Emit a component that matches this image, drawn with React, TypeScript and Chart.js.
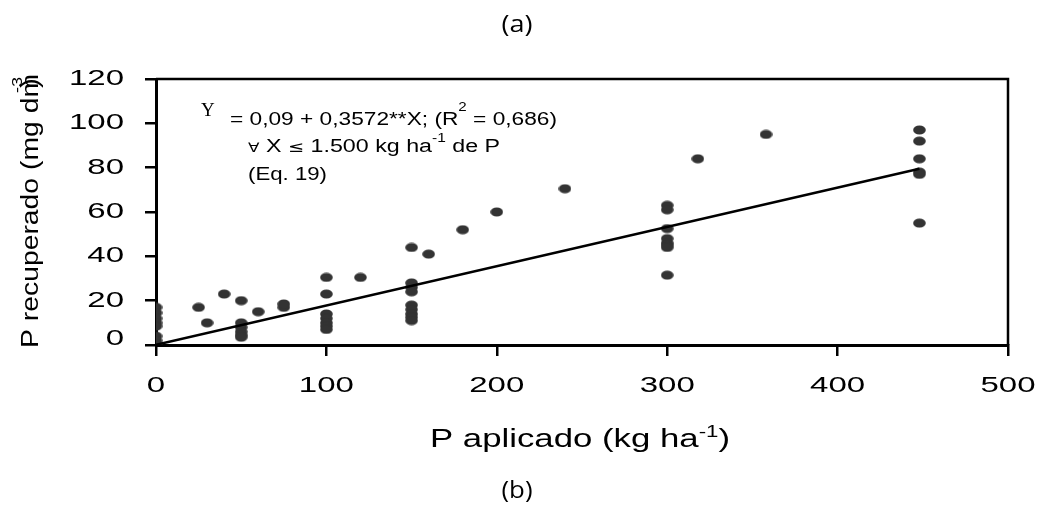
import React, { useEffect, useRef } from "react";
import { Chart, registerables } from "chart.js";

Chart.register(...registerables);

// ---- data ----
const appliedP = [
  0, 0, 0, 0, 0, 0, 0, 0,
  25, 30, 40,
  50, 50, 50, 50, 50, 50,
  60, 75, 75,
  100, 100, 100, 100, 100, 100, 100,
  120,
  150, 150, 150, 150, 150, 150, 150, 150, 150,
  160, 180, 200, 240,
  300, 300, 300, 300, 300, 300, 300, 300,
  318, 358,
  448, 448, 448, 448, 448, 448,
];
const recoveredP = [
  17, 14.5, 12, 10, 8.5, 4, 2, 0.5,
  17, 10, 23,
  20, 10, 8, 6, 4.5, 3.5,
  15, 17, 18.5,
  30.5, 23, 14, 12, 10, 8.5, 7,
  30.5,
  44, 28, 26, 24, 18, 16, 14, 12.5, 11,
  41, 52, 60, 70.5,
  63, 61, 52.5, 48, 46, 45, 44, 31.5,
  84, 95,
  97, 92, 84, 78, 77, 55,
];
const fitX = [0, 448];
const fitY = [0.09, 79.5];

const xTicks = [0, 100, 200, 300, 400, 500];
const xTickLabels = ["0", "100", "200", "300", "400", "500"];
const yTicks = [0, 20, 40, 60, 80, 100, 120];
const yTickLabels = ["0", "20", "40", "60", "80", "100", "120"];

const topTitle = "(a)";
const bottomTitle = "(b)";
const xTitle = "P aplicado (kg ha";
const yTitle = "P recuperado (mg dm";

type Seg = { t: string; font: string; rise?: number };

function drawSegs(
  ctx: CanvasRenderingContext2D,
  segs: Seg[],
  x: number,
  y: number,
  align: "left" | "center" | "right",
  opts: { targetW?: number; scaleX?: number; rotate?: boolean; baseline?: CanvasTextBaseline }
) {
  ctx.save();
  let total = 0;
  const ws = segs.map((s) => {
    ctx.font = s.font;
    const w = ctx.measureText(s.t).width;
    total += w;
    return w;
  });
  const sx = opts.targetW ? opts.targetW / total : opts.scaleX ?? 1;
  ctx.translate(x, y);
  if (opts.rotate) ctx.rotate(-Math.PI / 2);
  ctx.scale(sx, 1);
  let cx = align === "left" ? 0 : align === "center" ? -total / 2 : -total;
  ctx.textAlign = "left";
  ctx.textBaseline = opts.baseline ?? "alphabetic";
  ctx.fillStyle = "#000";
  segs.forEach((s, i) => {
    ctx.font = s.font;
    ctx.fillText(s.t, cx, -(s.rise ?? 0));
    cx += ws[i];
  });
  ctx.restore();
}

const SANS = '"Liberation Sans", Arial, sans-serif';
const CAP = '"Open Sans", "Noto Sans", sans-serif';

const decorPlugin = {
  id: "decor",
  afterDraw(chart: any) {
    const ctx: CanvasRenderingContext2D = chart.ctx;
    const a = chart.chartArea;
    const xs = chart.scales.x;
    const ys = chart.scales.y;

    // box (top and right borders)
    ctx.save();
    ctx.strokeStyle = "#000";
    ctx.lineWidth = 2.5;
    ctx.beginPath();
    ctx.moveTo(a.left, a.top);
    ctx.lineTo(a.right, a.top);
    ctx.lineTo(a.right, a.bottom);
    ctx.stroke();
    ctx.restore();

    // tick labels
    yTicks.forEach((v, i) => {
      const py = ys.getPixelForValue(v);
      drawSegs(ctx, [{ t: yTickLabels[i], font: `22px ${SANS}` }], 124, v === 0 ? py - 6 : py, "right", {
        scaleX: 1.5,
        baseline: "middle",
      });
    });
    xTicks.forEach((v, i) => {
      drawSegs(ctx, [{ t: xTickLabels[i], font: `22px ${SANS}` }], xs.getPixelForValue(v), 386, "center", {
        scaleX: 1.5,
        baseline: "middle",
      });
    });

    // axis titles
    drawSegs(
      ctx,
      [
        { t: xTitle, font: `25px ${SANS}` },
        { t: "-1", font: `16px ${SANS}`, rise: 10 },
        { t: ")", font: `25px ${SANS}` },
      ],
      580,
      447,
      "center",
      { targetW: 300 }
    );
    drawSegs(ctx, [{ t: yTitle, font: `23px ${SANS}` }], 38, 348, "left", { targetW: 274, rotate: true });
    drawSegs(ctx, [{ t: "-3", font: `14px ${SANS}` }], 22, 93, "left", { scaleX: 1.3, rotate: true });
    drawSegs(ctx, [{ t: ")", font: `23px ${SANS}` }], 38, 88, "left", { scaleX: 1.3, rotate: true });

    // equation annotation
    drawSegs(ctx, [{ t: "Y", font: `19px "Liberation Serif", serif` }], 201, 116, "left", {});
    drawSegs(
      ctx,
      [
        { t: "= 0,09 + 0,3572**X; (R", font: `18px ${SANS}` },
        { t: "2", font: `12px ${SANS}`, rise: 14 },
        { t: " = 0,686)", font: `18px ${SANS}` },
      ],
      230,
      125,
      "left",
      { targetW: 327 }
    );
    drawSegs(
      ctx,
      [
        { t: "\u2200", font: `13px "DejaVu Sans", sans-serif` },
        { t: " X ", font: `18px ${SANS}` },
        { t: "\u2264", font: `15px "DejaVu Sans", sans-serif` },
        { t: " 1.500 kg ha", font: `18px ${SANS}` },
        { t: "-1", font: `12px ${SANS}`, rise: 10 },
        { t: " de P", font: `18px ${SANS}` },
      ],
      248,
      152,
      "left",
      { targetW: 252 }
    );
    drawSegs(ctx, [{ t: "(Eq. 19)", font: `18px ${SANS}` }], 248, 180, "left", { targetW: 79 });

    // figure captions
    drawSegs(ctx, [{ t: topTitle, font: `24px ${CAP}` }], 517, 32, "center", { targetW: 31 });
    drawSegs(ctx, [{ t: bottomTitle, font: `24px ${CAP}` }], 517, 498, "center", { targetW: 31 });
  },
};

function makeDot(): HTMLCanvasElement {
  const c = document.createElement("canvas");
  c.width = 13;
  c.height = 10;
  const g = c.getContext("2d")!;
  g.fillStyle = "#333333";
  g.beginPath();
  g.ellipse(6.5, 5, 6.3, 4.6, 0, 0, Math.PI * 2);
  g.fill();
  return c;
}

export default function App() {
  const ref = useRef<HTMLCanvasElement | null>(null);

  useEffect(() => {
    if (!ref.current) return;
    const dot = makeDot();
    const points = appliedP.map((x, i) => ({ x, y: recoveredP[i] }));
    const fit = fitX.map((x, i) => ({ x, y: fitY[i] }));
    const tickGrid = {
      display: true,
      drawOnChartArea: false,
      drawTicks: true,
      tickLength: 11,
      color: "#000",
      lineWidth: 2.5,
    };
    const chart = new Chart(ref.current, {
      type: "scatter",
      data: {
        datasets: [
          {
            data: fit,
            showLine: true,
            borderColor: "#000",
            borderWidth: 2.5,
            pointRadius: 0,
            fill: false,
          } as any,
          {
            data: points,
            pointStyle: dot as any,
            pointRadius: 6,
            backgroundColor: "#333",
            borderWidth: 0,
          } as any,
        ],
      },
      options: {
        responsive: false,
        animation: false,
        devicePixelRatio: 1,
        layout: { padding: { top: 79, right: 30, left: 0, bottom: 0 } },
        plugins: { legend: { display: false }, tooltip: { enabled: false } },
        scales: {
          x: {
            type: "linear",
            min: 0,
            max: 500,
            ticks: { display: false },
            afterBuildTicks: (s: any) => {
              s.ticks = xTicks.map((v) => ({ value: v }));
            },
            grid: tickGrid,
            border: { display: true, color: "#000", width: 3 },
            afterFit: (s: any) => {
              s.height = 163;
            },
          },
          y: {
            type: "linear",
            min: 0,
            max: 120,
            ticks: { display: false },
            afterBuildTicks: (s: any) => {
              s.ticks = yTicks.map((v) => ({ value: v }));
            },
            grid: tickGrid,
            border: { display: true, color: "#000", width: 3 },
            afterFit: (s: any) => {
              s.width = 156;
            },
          },
        },
      } as any,
      plugins: [decorPlugin],
    });
    return () => chart.destroy();
  }, []);

  return (
    <div style={{ position: "absolute", left: 0, top: 0, width: 1038, height: 508, background: "#fff" }}>
      <canvas ref={ref} width={1038} height={508} style={{ display: "block", width: 1038, height: 508 }} />
    </div>
  );
}
